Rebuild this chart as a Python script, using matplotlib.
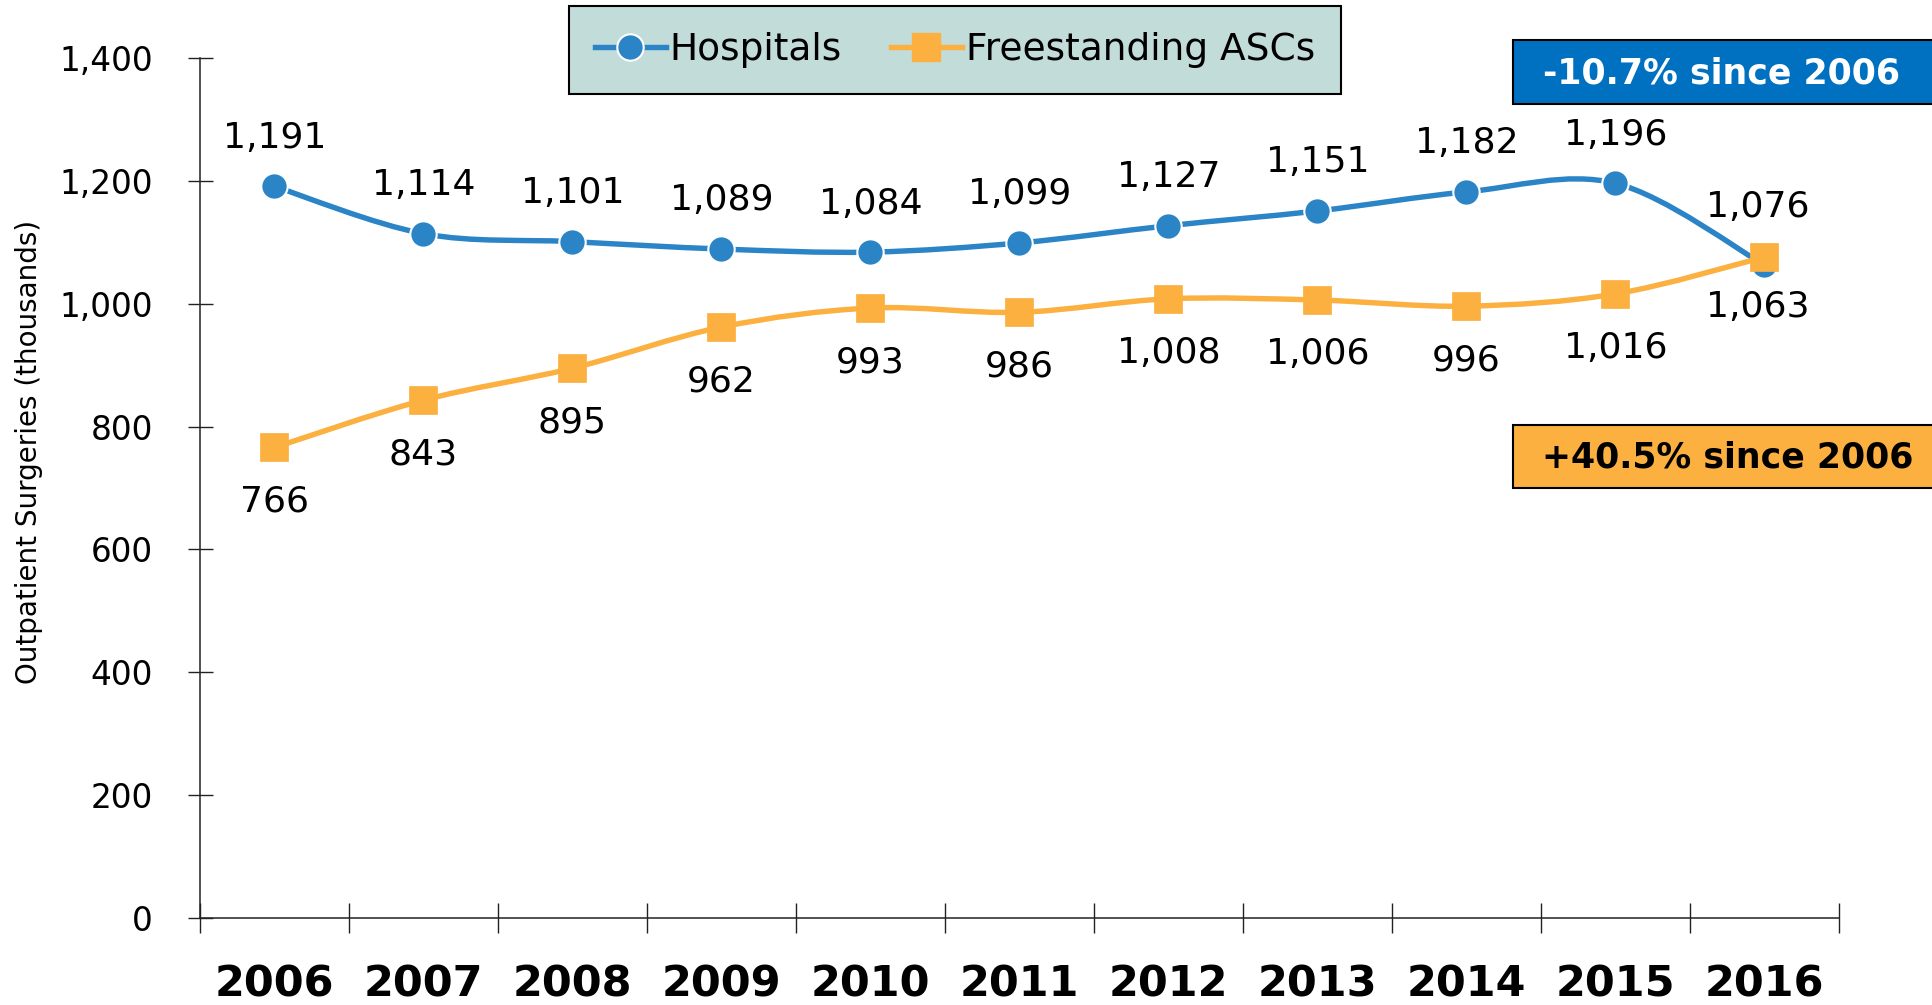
import numpy as np
import matplotlib.pyplot as plt
from matplotlib.path import Path
from matplotlib.patches import PathPatch, Rectangle
from matplotlib.lines import Line2D

plt.rcParams['font.family'] = ['DejaVu Sans']

years = ['2006', '2007', '2008', '2009', '2010', '2011', '2012', '2013', '2014', '2015', '2016']
hospitals = [1191, 1114, 1101, 1089, 1084, 1099, 1127, 1151, 1182, 1196, 1063]
ascs = [766, 843, 895, 962, 993, 986, 1008, 1006, 996, 1016, 1076]
yticks = [0, 200, 400, 600, 800, 1000, 1200, 1400]

blue = '#2A84C6'
orange = '#FBB040'
W, H = 1933, 1005


def smooth_path(xs, ys):
    # excel-style smoothed line: bezier segments with tangent (P[i+1]-P[i-1])/6
    pts = np.column_stack([xs, ys]).astype(float)
    padded = np.vstack([pts[0], pts, pts[-1]])
    verts = [pts[0]]
    codes = [Path.MOVETO]
    for i in range(len(pts) - 1):
        p0, p1, p2, p3 = padded[i], padded[i + 1], padded[i + 2], padded[i + 3]
        c1 = p1 + (p2 - p0) / 6.0
        c2 = p2 - (p3 - p1) / 6.0
        verts += [c1, c2, p2]
        codes += [Path.CURVE4] * 3
    return Path(verts, codes)


fig = plt.figure(figsize=(W / 100, H / 100), dpi=100)
ax = fig.add_axes([200 / W, 1 - 918 / H, (1839 - 200) / W, (918 - 58) / H])

x = np.arange(len(years))
for vals, col in [(hospitals, blue), (ascs, orange)]:
    ax.add_patch(PathPatch(smooth_path(x, vals), facecolor='none', edgecolor=col,
                           lw=3.9, capstyle='round', zorder=2))

ax.plot(x, hospitals, ls='none', marker='o', ms=19, mfc=blue, mec='white', mew=1.5, zorder=3)
ax.plot(x, ascs, ls='none', marker='s', ms=20.5, mfc=orange, mec=orange, mew=0.5, zorder=4)

# data labels
for i, v in enumerate(hospitals):
    if i == len(hospitals) - 1:
        ax.annotate(f'{v:,}', (x[i], v), xytext=(-5, -30), textcoords='offset points',
                    ha='center', va='center', fontsize=26)
    else:
        ax.annotate(f'{v:,}', (x[i], v), xytext=(0, 35), textcoords='offset points',
                    ha='center', va='center', fontsize=26)
for i, v in enumerate(ascs):
    if i == len(ascs) - 1:
        ax.annotate(f'{v:,}', (x[i], v), xytext=(-5, 36), textcoords='offset points',
                    ha='center', va='center', fontsize=26)
    else:
        ax.annotate(f'{v:,}', (x[i], v), xytext=(0, -39), textcoords='offset points',
                    ha='center', va='center', fontsize=26)

ax.set_xlim(-0.5, len(years) - 0.5)
ax.set_ylim(0, 1400)
ax.set_yticks(yticks)
ax.set_yticklabels([f'{t:,}' for t in yticks], fontsize=23.5)
ax.set_xticks(x)
ax.set_xticklabels(years, fontsize=31, fontweight='bold')
ax.set_xticks(np.arange(len(years) + 1) - 0.5, minor=True)
ax.tick_params(axis='x', which='major', length=0, pad=33)
ax.tick_params(axis='x', which='minor', direction='inout', length=22, width=1.0, color='#222222')
ax.tick_params(axis='y', direction='inout', length=18, width=1.0, pad=25, color='#222222')
for s in ['top', 'right']:
    ax.spines[s].set_visible(False)
for s in ['left', 'bottom']:
    ax.spines[s].set_linewidth(1.1)
    ax.spines[s].set_color('#222222')

fig.text(29 / W, 1 - 452 / H, 'Outpatient Surgeries (thousands)', rotation=90,
         ha='center', va='center', fontsize=20)

# legend
handles = [Line2D([], [], color=blue, lw=3.9, marker='o', ms=19, mfc=blue, mec='white', mew=1.5),
           Line2D([], [], color=orange, lw=3.9, marker='s', ms=20.5, mfc=orange, mec=orange)]
leg = fig.legend(handles, ['Hospitals', 'Freestanding ASCs'], loc='center',
                 bbox_to_anchor=(955 / W, 1 - 50 / H), ncol=2, fontsize=27,
                 frameon=True, fancybox=False, handlelength=1.9, handletextpad=0.1,
                 columnspacing=1.3, borderpad=0.7, borderaxespad=0)
leg.get_frame().set_facecolor('#C2DCDA')
leg.get_frame().set_edgecolor('black')
leg.get_frame().set_linewidth(1.5)
leg.get_frame().set_alpha(1)

# change annotations
fig.patches.append(Rectangle((1513 / W, 1 - 104 / H), (W - 1513 + 5) / W, 64 / H,
                             transform=fig.transFigure, facecolor='#0070C0',
                             edgecolor='black', lw=1.5, figure=fig))
fig.text(1722 / W, 1 - 73 / H, '-10.7% since 2006', ha='center', va='center',
         fontsize=25, fontweight='bold', color='white')
fig.patches.append(Rectangle((1513 / W, 1 - 488 / H), (W - 1513 + 5) / W, 63 / H,
                             transform=fig.transFigure, facecolor=orange,
                             edgecolor='black', lw=1.5, figure=fig))
fig.text(1728 / W, 1 - 457 / H, '+40.5% since 2006', ha='center', va='center',
         fontsize=25, fontweight='bold', color='black')

fig.savefig('out.png', dpi=100, facecolor='white')
